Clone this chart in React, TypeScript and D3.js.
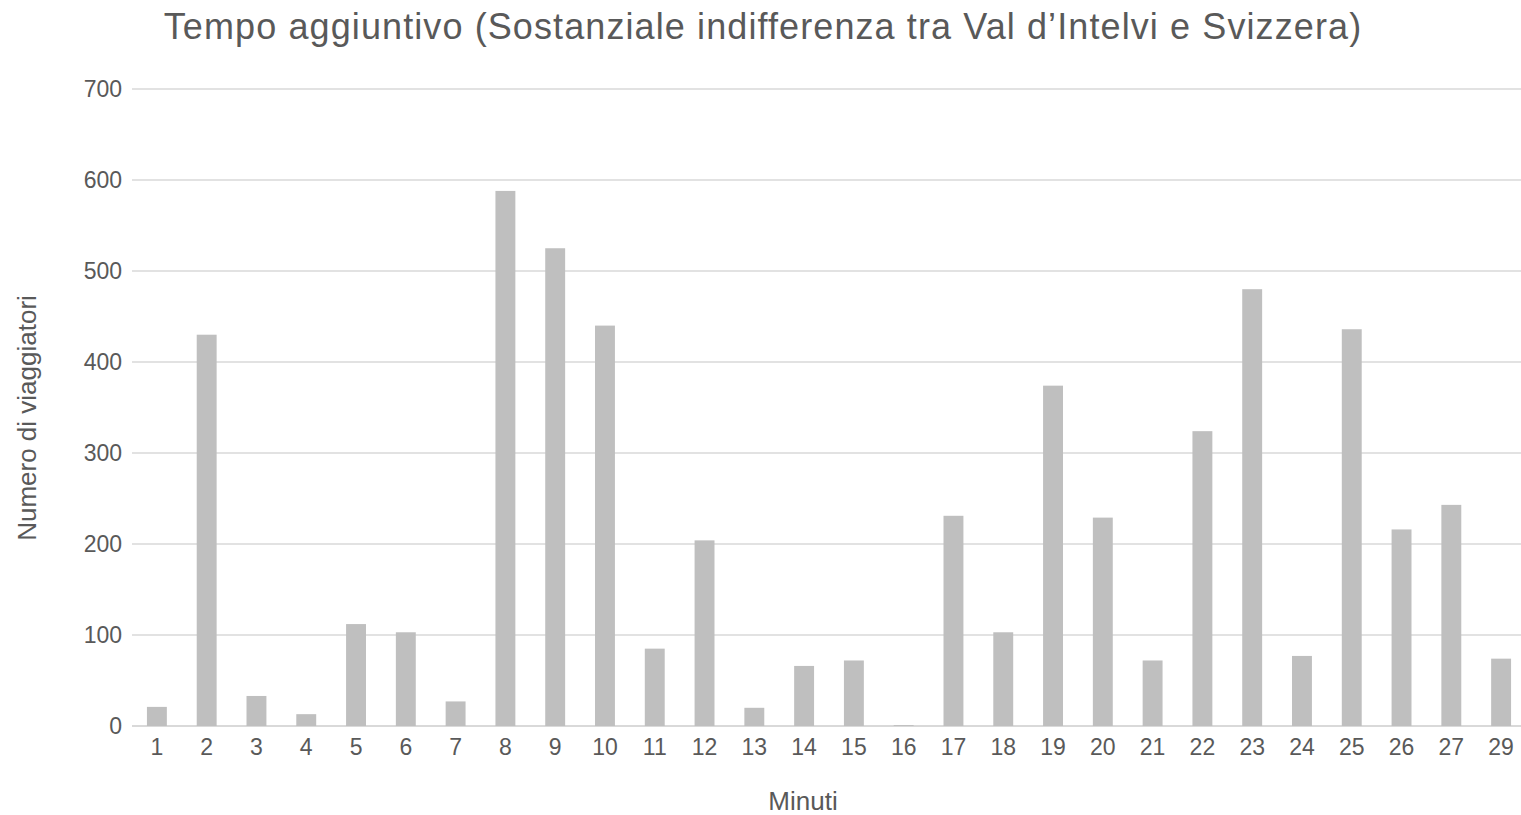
import React from 'react';
import * as d3 from 'd3';

// minuti di tempo aggiuntivo (28 manca nel grafico originale)
const minuti = ['1', '2', '3', '4', '5', '6', '7', '8', '9', '10', '11', '12', '13', '14', '15', '16', '17', '18', '19', '20', '21', '22', '23', '24', '25', '26', '27', '29'];
const viaggiatori = [21, 430, 33, 13, 112, 103, 27, 588, 525, 440, 85, 204, 20, 66, 72, 1, 231, 103, 374, 229, 72, 324, 480, 77, 436, 216, 243, 74];
const yTicks = [0, 100, 200, 300, 400, 500, 600, 700];

const title = 'Tempo aggiuntivo (Sostanziale indifferenza tra Val d\u2019Intelvi e Svizzera)';
const xTitle = 'Minuti';
const yTitle = 'Numero di viaggiatori';

export default function App() {
  const width = 1521;
  const height = 815;
  const margins = { top: 89, right: -5, bottom: 89, left: 132 };
  const font = 'Liberation Sans, Arial, sans-serif';
  const textColor = '#595959';

  const xScale = d3.scaleBand()
    .domain(minuti)
    .range([margins.left, width - margins.right])
    .paddingInner(0.6)
    .paddingOuter(0.3);

  const yScale = d3.scaleLinear()
    .domain([0, 700])
    .range([height - margins.bottom, margins.top]);

  return (
    <svg width={width} height={height} style={{ position: 'absolute', left: 0, top: 0, background: '#fff' }} fontFamily={font}>
      <text x={763} y={39} textAnchor="middle" fontSize={36} letterSpacing={1.1} fill={textColor}>{title}</text>

      {yTicks.map(t => (
        <g key={t}>
          <line x1={margins.left} x2={width} y1={yScale(t)} y2={yScale(t)} stroke="#D9D9D9" strokeWidth={t === 0 ? 1.8 : 1.5} />
          <text x={122} y={yScale(t)} dy="0.35em" textAnchor="end" fontSize={23} fill={textColor}>{t}</text>
        </g>
      ))}

      {minuti.map((m, i) => (
        <rect key={m}
          x={xScale(m)}
          y={yScale(viaggiatori[i])}
          width={xScale.bandwidth()}
          height={yScale(0) - yScale(viaggiatori[i])}
          fill="#BFBFBF" />
      ))}

      {minuti.map(m => (
        <text key={m} x={(xScale(m) as number) + xScale.bandwidth() / 2} y={755} textAnchor="middle" fontSize={23} fill={textColor}>{m}</text>
      ))}

      <text x={803} y={810} textAnchor="middle" fontSize={26} fill={textColor}>{xTitle}</text>
      <text transform={`translate(36,418) rotate(-90)`} textAnchor="middle" fontSize={26} fill={textColor}>{yTitle}</text>
    </svg>
  );
}
